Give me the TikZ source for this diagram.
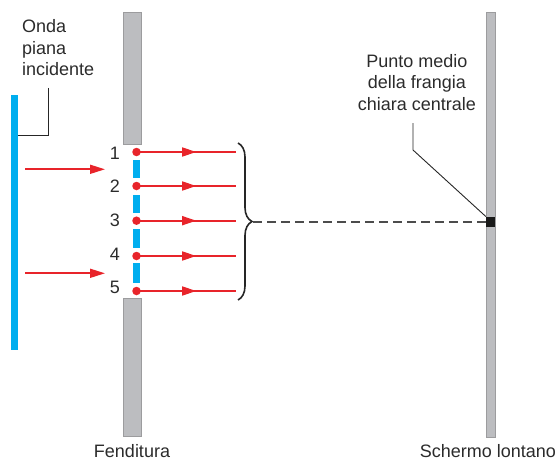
\documentclass[tikz,border=0pt]{standalone}
\usepackage{fontspec}
\setmainfont{Liberation Sans}
\usetikzlibrary{arrows.meta,decorations.pathreplacing,decorations.markings}
\definecolor{wred}{HTML}{E8242A}
\definecolor{wblue}{HTML}{00AEEF}
\definecolor{wgray}{HTML}{BCBDC0}
\definecolor{wedge}{HTML}{9C9C9E}
\definecolor{wtext}{HTML}{2B2B2B}
\begin{document}
\begin{tikzpicture}[x=1pt,y=-1pt,
  lbl/.style={font=\fontsize{18}{21.5}\selectfont, text=wtext, inner sep=0pt},
  wall/.style={fill=wgray, draw=wedge, line width=0.6pt, inner sep=0pt},
  bluebar/.style={fill=wblue, draw=none, inner sep=0pt},
  dot/.style={circle, fill=wred, draw=none, minimum size=8.5pt, inner sep=0pt},
  ray/.style={draw=wred, line width=1.7pt, postaction={decorate},
    decoration={markings, mark=at position 0.6 with {\arrow{Triangle[length=14pt,width=9pt,color=wred]}}}},
  inc/.style={draw=wred, line width=1.7pt, -{Triangle[length=15pt,width=9pt,color=wred]}},
  pointer/.style={draw=black!85, line width=0.9pt},
  dashline/.style={draw=black!70, line width=1.7pt, dash pattern=on 9pt off 5pt},
  bracestyle/.style={draw=black!85, line width=1.6pt, decorate, decoration={brace, amplitude=14pt}}
]
\useasboundingbox (0,0) rectangle (560,460);

% walls
\node[wall, minimum width=18pt, minimum height=132pt] (slittop) at (132,78) {};
\node[wall, minimum width=18pt, minimum height=138pt] (slitbot) at (132,367) {};
\node[wall, minimum width=9pt, minimum height=425pt] (screen) at (490.5,224.5) {};

% incident wave
\node[bluebar, minimum width=7pt, minimum height=255pt] (wave) at (14.5,222.5) {};

% wave in the slit
\node[bluebar, minimum width=7pt, minimum height=18pt] (s1) at (136.5,169) {};
\node[bluebar, minimum width=7pt, minimum height=18pt] (s2) at (136.5,204) {};
\node[bluebar, minimum width=7pt, minimum height=19pt] (s3) at (136.5,238.5) {};
\node[bluebar, minimum width=7pt, minimum height=20pt] (s4) at (136.5,273) {};

% ray ends
\coordinate (e1) at (236,152);
\coordinate (e2) at (236,186);
\coordinate (e3) at (236,220.7);
\coordinate (e4) at (236,256);
\coordinate (e5) at (236,291);

% points on the slit
\coordinate (c1) at (136.5,152);
\coordinate (c2) at (136.5,186);
\coordinate (c3) at (136.5,220.7);
\coordinate (c4) at (136.5,256);
\coordinate (c5) at (136.5,291);

\foreach \i in {1,...,5} {\draw[ray] (c\i) -- (e\i);}
\foreach \i in {1,...,5} {\node[dot] (d\i) at (c\i) {};}

% numbers
\node[lbl, anchor=base] (n1) at (115,159.3) {1};
\node[lbl, anchor=base] (n2) at (115,192.7) {2};
\node[lbl, anchor=base] (n3) at (115,226.7) {3};
\node[lbl, anchor=base] (n4) at (115,260.7) {4};
\node[lbl, anchor=base] (n5) at (115,293) {5};

% incident arrows
\coordinate (a1s) at (25,169.3);
\coordinate (a1e) at (105,169.3);
\coordinate (a2s) at (25,273.3);
\coordinate (a2e) at (105,273.3);
\draw[inc] (a1s) -- (a1e);
\draw[inc] (a2s) -- (a2e);

% brace
\coordinate (bt) at (238,143);
\coordinate (bb) at (238,300);
\draw[bracestyle] (bt) -- (bb);
\coordinate (btip) at (253,221.7);

% midpoint marker
\node[fill=black!90, draw=none, inner sep=0pt, minimum width=9pt, minimum height=10pt] (mid) at (490.5,221.7) {};
\draw[dashline] (btip) -- (mid.west);

% labels
\node[lbl, anchor=north west, align=left] (onda) at (22,19.6) {Onda\\piana\\incidente};
\node[lbl, anchor=north, align=center] (punto) at (417,54.1) {Punto medio\\della frangia\\chiara centrale};
\node[lbl, anchor=base] (fend) at (132,457.3) {Fenditura};
\node[lbl, anchor=base] (scherm) at (488,457.3) {Schermo lontano};

% pointers
\coordinate (p1) at (48,88);
\coordinate (p2) at (48,135);
\draw[pointer] (p1) -- (p2) -- (p2 -| wave.east);
\coordinate (q1) at (413,123);
\coordinate (q2) at (413,150);
\draw[pointer] (q1) -- (q2) -- (mid.north west);
\end{tikzpicture}
\end{document}
